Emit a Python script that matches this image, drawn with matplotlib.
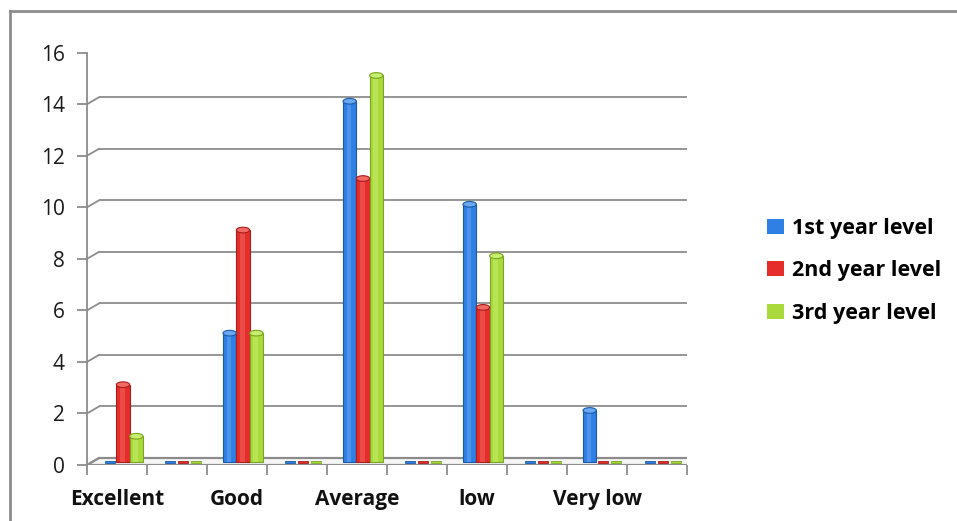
import matplotlib
matplotlib.use("Agg")
import matplotlib.pyplot as plt
from matplotlib.patches import Patch, Polygon, Rectangle, Ellipse
from matplotlib.lines import Line2D
import matplotlib.transforms as mtransforms
import numpy as np

# Category slots (every other slot is an unlabeled gap group)
categories = ["Excellent", "", "Good", "", "Average", "", "low", "", "Very low", ""]
year1 = [0, 0, 5, 0, 14, 0, 10, 0, 2, 0]
year2 = [3, 0, 9, 0, 11, 0, 6, 0, 0, 0]
year3 = [1, 0, 5, 0, 15, 0, 8, 0, 0, 0]
series_names = ["1st year level", "2nd year level", "3rd year level"]
y_ticks = [0, 2, 4, 6, 8, 10, 12, 14, 16]

colors = ["#2f7fe4", "#e52e2b", "#a9d93b"]
edge_colors = ["#1b5aa8", "#a81c1a", "#78a421"]
highlight = ["#6aa8f2", "#f26a66", "#c8ee6e"]
grid_color = "#8c8c8c"
font_list = ["Open Sans", "DejaVu Sans"]

plt.rcParams["font.family"] = font_list

W, H = 957, 521
fig = plt.figure(figsize=(W / 100, H / 100), dpi=100)
ax = fig.add_axes([87 / W, (H - 465) / H, 600 / W, (465 - 52.7) / H])
ax.set_xlim(0, len(categories))
ax.set_ylim(0, 16)
for s in ax.spines.values():
    s.set_visible(False)
ax.patch.set_visible(False)

# depth offsets (back wall and mid-depth for the columns)
back = mtransforms.offset_copy(ax.transData, fig=fig, x=12, y=7, units="dots")
mid = mtransforms.offset_copy(ax.transData, fig=fig, x=6, y=3, units="dots")

n = len(categories)

# floor slab
ax.add_patch(Polygon(
    [ax.transData.transform((0, 0)),
     ax.transData.transform((n, 0)),
     back.transform((n, 0)),
     back.transform((0, 0))],
    closed=True, transform=None, facecolor="#f6f6f6", edgecolor=grid_color,
    linewidth=1.6, zorder=1))

# back-wall gridlines with the diagonal stub to the front axis
for v in y_ticks[1:]:
    ax.plot([0, n], [v, v], color=grid_color, lw=1.3,
            transform=back, zorder=1, solid_capstyle="butt")
for v in y_ticks:
    p0 = ax.transData.transform((0, v))
    p1 = back.transform((0, v))
    ax.add_line(Line2D([p0[0], p1[0]], [p0[1], p1[1]], color=grid_color,
                       lw=1.3, transform=None, zorder=1))

# front left axis
ax.plot([0, 0], [0, 16], color=grid_color, lw=1.3, zorder=2, clip_on=False)

# columns
bw = 0.222
x = np.arange(n) + 0.5
for i, vals in enumerate([year1, year2, year3]):
    xs = x + (i - 1) * bw
    for xc, v in zip(xs, vals):
        if v == 0:
            ax.add_patch(Rectangle((xc - bw / 2 + 0.03, -0.04), bw - 0.06, 0.08,
                                   transform=mid, facecolor=colors[i],
                                   edgecolor=edge_colors[i], lw=0.6, zorder=4))
            continue
        ax.bar(xc, v, width=bw, color=colors[i], edgecolor=edge_colors[i],
               linewidth=0.8, transform=mid, zorder=4)
        ax.bar(xc - bw * 0.05, v, width=bw * 0.35, color=highlight[i],
               alpha=0.5, linewidth=0, transform=mid, zorder=5)
        ax.add_patch(Ellipse((xc, v), bw, 0.22, transform=mid,
                             facecolor=highlight[i], edgecolor=edge_colors[i],
                             lw=0.8, zorder=6))

# ticks and labels
ax.set_yticks(y_ticks)
ax.set_yticklabels([str(t) for t in y_ticks], fontsize=15, color="#1a1a1a")
ax.tick_params(axis="y", length=7, width=1.3, color=grid_color, pad=9)
ax.set_xticks(np.arange(n + 1))
ax.set_xticklabels([])
ax.tick_params(axis="x", which="major", length=7, width=1.3, color=grid_color,
               direction="out")
ax.set_xticks(x, minor=True)
ax.set_xticklabels(categories, minor=True, fontsize=15, fontweight="bold",
                   color="#111111")
ax.tick_params(axis="x", which="minor", length=0, pad=17)

# legend
handles = [Patch(facecolor=c, edgecolor="none") for c in colors]
leg = fig.legend(handles, series_names, loc="center left",
                 bbox_to_anchor=(748 / W, 1 - 271 / H), frameon=False,
                 prop={"family": font_list, "weight": "bold", "size": 15.5},
                 handlelength=0.75, handleheight=0.7, handletextpad=0.4,
                 labelspacing=1.0)

# chart border (top and left edges)
fig.add_artist(Line2D([10 / W, 1.0], [1 - 11 / H, 1 - 11 / H], color=grid_color,
                      lw=2, transform=fig.transFigure))
fig.add_artist(Line2D([10 / W, 10 / W], [1 - 11 / H, 0], color=grid_color,
                      lw=2, transform=fig.transFigure))

fig.savefig("out.png", dpi=100)
